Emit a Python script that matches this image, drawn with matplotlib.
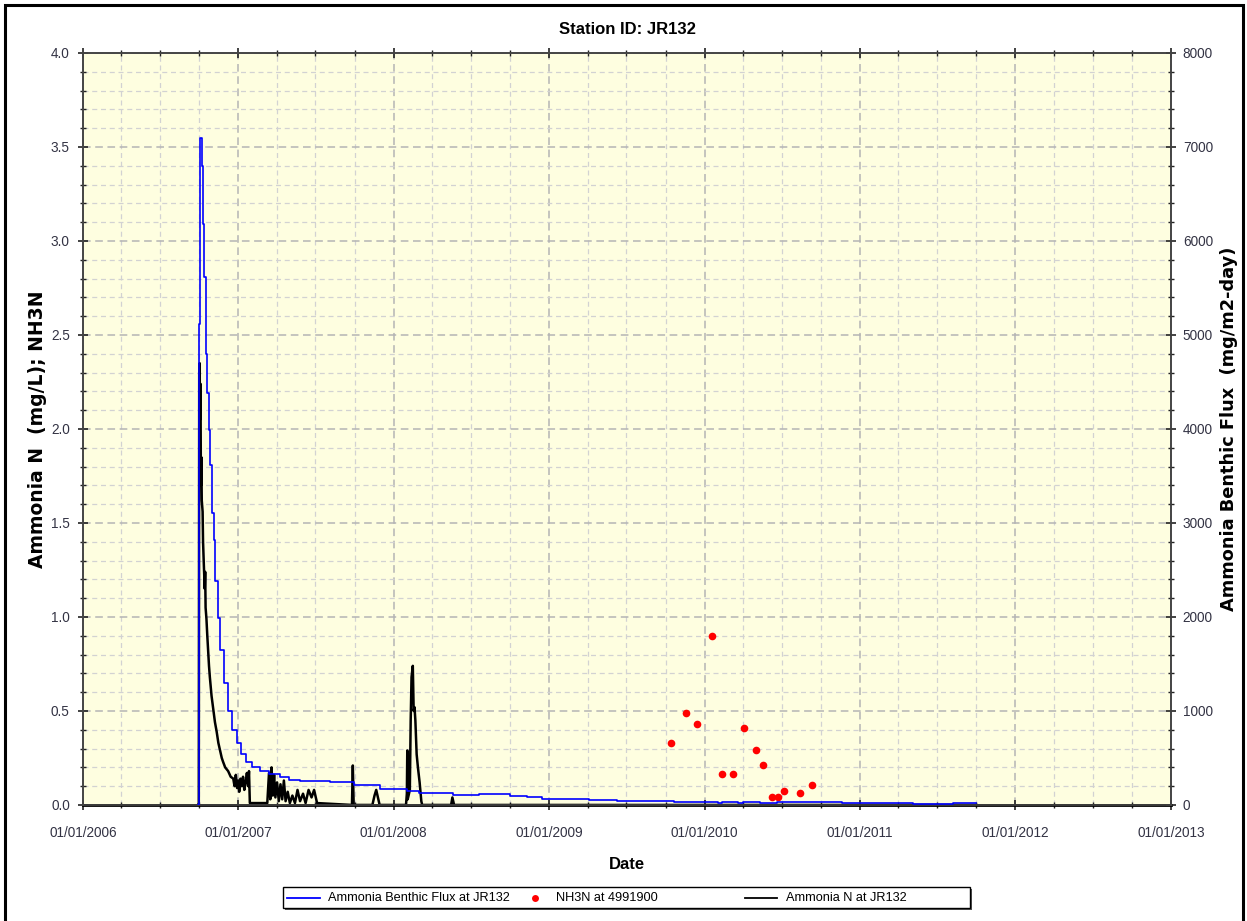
"""
JR132 站点氨氮 / 底泥通量时序图
左轴: Ammonia N (mg/L) 和 NH3N 实测点
右轴: Ammonia Benthic Flux (mg/m2-day)
"""

import matplotlib.pyplot as plt
import matplotlib.dates as mdates
import numpy as np
import pandas as pd
from matplotlib.lines import Line2D
from matplotlib.patches import Rectangle

# ---- 数据 ----
# 底泥通量 (mg/m2-day),阶梯线
FLUX_DATES = [
    "2006-09-29", "2006-09-30", "2006-10-04", "2006-10-07", "2006-10-10",
    "2006-10-13", "2006-10-16", "2006-10-19", "2006-10-23", "2006-10-27",
    "2006-10-31", "2006-11-04", "2006-11-08", "2006-11-14", "2006-11-20",
    "2006-11-28", "2006-12-08", "2006-12-18", "2006-12-28", "2007-01-08",
    "2007-01-20", "2007-02-03", "2007-02-20", "2007-03-15", "2007-04-09",
    "2007-05-01", "2007-05-26", "2007-08-04", "2007-09-29", "2007-12-01",
    "2008-02-01", "2008-03-01", "2008-04-20", "2008-05-20", "2008-07-20",
    "2008-10-01", "2008-11-10", "2008-12-15", "2009-04-05", "2009-06-10",
    "2009-10-20", "2010-01-15", "2010-02-01", "2010-02-10", "2010-03-20",
    "2010-04-01", "2010-05-10", "2010-06-20", "2010-11-20", "2011-05-05",
    "2011-08-08", "2011-10-01",
]
FLUX_VALUES = [
    0, 5120, 7100, 6800, 6180,
    5620, 4800, 4380, 3990, 3620,
    3110, 2820, 2380, 1990, 1650,
    1300, 1000, 800, 660, 540,
    460, 400, 360, 330, 300,
    270, 260, 240, 212, 170,
    150, 130, 128, 106, 120,
    100, 84, 60, 50, 40,
    34, 28, 18, 28, 18,
    28, 18, 28, 18, 5,
    18, 18,
]

# 模拟氨氮 (mg/L)
NH3_DATES = [
    "2006-09-29", "2006-09-30", "2006-10-01", "2006-10-02", "2006-10-03",
    "2006-10-04", "2006-10-05", "2006-10-06", "2006-10-07", "2006-10-09",
    "2006-10-10", "2006-10-12", "2006-10-14", "2006-10-15", "2006-10-16",
    "2006-10-18", "2006-10-20", "2006-10-22", "2006-10-24", "2006-10-26",
    "2006-10-30", "2006-11-03", "2006-11-07", "2006-11-11", "2006-11-15",
    "2006-11-19", "2006-11-23", "2006-11-26", "2006-12-01", "2006-12-08",
    "2006-12-14", "2006-12-20", "2006-12-23", "2006-12-26", "2006-12-29",
    "2007-01-01", "2007-01-03", "2007-01-06", "2007-01-09", "2007-01-12",
    "2007-01-15", "2007-01-18", "2007-01-21", "2007-01-24", "2007-01-26",
    "2007-01-28", "2007-03-10", "2007-03-14", "2007-03-17", "2007-03-20",
    "2007-03-23", "2007-03-26", "2007-03-29", "2007-04-02", "2007-04-06",
    "2007-04-10", "2007-04-14", "2007-04-18", "2007-04-22", "2007-04-27",
    "2007-05-02", "2007-05-08", "2007-05-14", "2007-05-20", "2007-05-26",
    "2007-06-02", "2007-06-08", "2007-06-15", "2007-06-22", "2007-06-28",
    "2007-07-05", "2007-09-25", "2007-09-27", "2007-09-29", "2007-11-12",
    "2007-11-17", "2007-11-21", "2007-11-25", "2007-11-29", "2008-01-30",
    "2008-02-01", "2008-02-02", "2008-02-03", "2008-02-08", "2008-02-10",
    "2008-02-12", "2008-02-15", "2008-02-17", "2008-02-19", "2008-02-21",
    "2008-02-24", "2008-02-27", "2008-03-02", "2008-03-06", "2008-03-08",
    "2008-05-15", "2008-05-18", "2008-05-22", "2011-10-01",
]
NH3_VALUES = [
    0.0, 0.0, 2.30, 2.35, 2.05,
    2.24, 1.70, 1.85, 1.62, 1.56,
    1.40, 1.27, 1.15, 1.24, 1.05,
    0.99, 0.90, 0.82, 0.74, 0.68,
    0.58, 0.51, 0.44, 0.39, 0.33,
    0.29, 0.25, 0.23, 0.20, 0.18,
    0.15, 0.14, 0.10, 0.16, 0.09,
    0.13, 0.07, 0.14, 0.10, 0.15,
    0.08, 0.12, 0.17, 0.10, 0.18,
    0.01, 0.01, 0.17, 0.03, 0.20,
    0.05, 0.16, 0.04, 0.12, 0.02,
    0.11, 0.03, 0.13, 0.02, 0.07,
    0.01, 0.05, 0.01, 0.08, 0.02,
    0.06, 0.01, 0.08, 0.04, 0.08,
    0.01, 0.0, 0.21, 0.0, 0.0,
    0.05, 0.08, 0.04, 0.0, 0.0,
    0.06, 0.29, 0.03, 0.08, 0.45,
    0.68, 0.74, 0.50, 0.52, 0.45,
    0.27, 0.20, 0.12, 0.02, 0.0,
    0.0, 0.04, 0.0, 0.0,
]

# NH3N 实测点 (mg/L)
OBS_DATES = [
    "2009-10-13", "2009-11-18", "2009-12-14", "2010-01-18", "2010-02-10",
    "2010-03-08", "2010-04-04", "2010-05-02", "2010-05-18", "2010-06-07",
    "2010-06-23", "2010-07-06", "2010-08-12", "2010-09-09",
]
OBS_VALUES = [
    0.33, 0.49, 0.43, 0.90, 0.165,
    0.165, 0.41, 0.29, 0.215, 0.04,
    0.04, 0.074, 0.065, 0.105,
]

LEGEND_LABELS = ["Ammonia Benthic Flux at JR132", "NH3N at 4991900",
                 "Ammonia N at JR132"]

TICK_COLOR = "#333344"
TICK_FONT = ["Liberation Sans", "DejaVu Sans"]

W, H = 1247, 921  # 像素尺寸


def px(x, y):
    """像素坐标(左上为原点) -> figure 坐标。"""
    return x / W, 1 - y / H


def draw_legend(fig):
    """底部图例:三列等宽,手工摆放,带阴影边框。"""
    x0, y0 = px(283, 908)
    x1, y1 = px(970, 887)
    sx, sy = 2 / W, 2 / H
    fig.add_artist(Rectangle((x0 + sx, y0 - sy), x1 - x0, y1 - y0,
                             transform=fig.transFigure, facecolor="#555555",
                             edgecolor="none"))
    fig.add_artist(Rectangle((x0, y0), x1 - x0, y1 - y0,
                             transform=fig.transFigure, facecolor="white",
                             edgecolor="black", linewidth=1.0))
    yc = 1 - 897.5 / H
    # 第 1 项:蓝线
    fig.add_artist(Line2D([287 / W, 320 / W], [yc, yc], color="blue",
                          linewidth=1.3, transform=fig.transFigure))
    # 第 2 项:红点
    fig.add_artist(Line2D([535 / W], [yc], marker="o", color="red",
                          markersize=5, markeredgewidth=0, linestyle="none",
                          transform=fig.transFigure))
    # 第 3 项:黑线
    fig.add_artist(Line2D([745 / W, 777 / W], [yc, yc], color="black",
                          linewidth=1.3, transform=fig.transFigure))
    for xt, lab in zip((328, 556, 786), LEGEND_LABELS):
        fig.text(xt / W, yc, lab, ha="left", va="center", fontsize=9.2,
                 family=TICK_FONT, color="black")


def main():
    plt.rcParams["font.family"] = ["DejaVu Sans"]

    fig = plt.figure(figsize=(12.47, 9.21), dpi=100)
    ax = fig.add_axes([0.0666, 0.126, 0.8725, 0.8165])
    ax2 = ax.twinx()

    ax.set_facecolor("#fefee0")
    ax2.patch.set_visible(False)

    flux_t = pd.to_datetime(FLUX_DATES)
    nh3_t = pd.to_datetime(NH3_DATES)
    obs_t = pd.to_datetime(OBS_DATES)

    ax.plot(nh3_t, NH3_VALUES, color="black", linewidth=1.8, zorder=3)
    ax.plot(obs_t, OBS_VALUES, "o", color="red", markersize=5.5,
            markeredgewidth=0, zorder=5)
    ax2.plot(flux_t, FLUX_VALUES, color="blue", linewidth=1.2,
             drawstyle="steps-post", zorder=4)

    # 坐标范围
    ax.set_xlim(pd.Timestamp("2006-01-01"), pd.Timestamp("2013-01-01"))
    ax.set_ylim(0, 4.0)
    ax2.set_ylim(0, 8000)

    ax.xaxis.set_major_locator(mdates.YearLocator())
    ax.xaxis.set_major_formatter(mdates.DateFormatter("%m/%d/%Y"))
    ax.xaxis.set_minor_locator(mdates.MonthLocator(bymonth=(4, 7, 10)))
    ax.set_yticks(np.arange(0, 4.01, 0.5))
    ax.set_yticks(np.arange(0, 4.01, 0.1), minor=True)
    ax.yaxis.set_major_formatter(plt.FormatStrFormatter("%.1f"))
    ax2.set_yticks(np.arange(0, 8001, 1000))
    ax2.set_yticks(np.arange(0, 8001, 200), minor=True)

    # 网格
    ax.grid(which="major", color="#b4b4b4", linestyle=(0, (5, 3)), linewidth=1.1)
    ax.grid(which="minor", color="#d2d2d2", linestyle=(0, (4, 3)), linewidth=0.9)
    ax.set_axisbelow(True)

    # 刻度
    for a in (ax, ax2):
        a.tick_params(which="major", direction="inout", length=7, width=1.2,
                      color="#222222", labelcolor=TICK_COLOR)
        a.tick_params(which="minor", direction="inout", length=5, width=1.0,
                      color="#222222")
        for s in a.spines.values():
            s.set_color("#444444")
            s.set_linewidth(1.2)
    ax.tick_params(which="both", top=True)
    ax.spines["bottom"].set_color("black")
    ax.spines["bottom"].set_linewidth(2)
    ax.tick_params(axis="x", which="major", pad=12)
    ax.tick_params(axis="y", which="major", pad=6)
    ax2.tick_params(axis="y", which="major", pad=5)
    for lab in ax.get_xticklabels() + ax.get_yticklabels() + ax2.get_yticklabels():
        lab.set_family(TICK_FONT)
        lab.set_fontsize(9.8)

    ax.set_xlabel("Date", fontsize=12, fontweight="bold", labelpad=12,
                  family=TICK_FONT)
    ax.set_ylabel("Ammonia N  (mg/L); NH3N", fontsize=13.5, fontweight="bold",
                  labelpad=3)
    ax2.set_ylabel("Ammonia Benthic Flux  (mg/m2-day)", fontsize=12.8,
                   fontweight="bold", labelpad=5)
    ax.set_title("Station ID: JR132", fontsize=12, fontweight="bold", pad=14,
                 family=TICK_FONT)

    draw_legend(fig)

    # 外边框
    fig.add_artist(Rectangle((0.004, -0.01), 0.993, 1.005,
                             transform=fig.transFigure, fill=False,
                             edgecolor="black", linewidth=2.2))

    fig.savefig("out.png", dpi=100)
    plt.close(fig)


if __name__ == "__main__":
    main()
